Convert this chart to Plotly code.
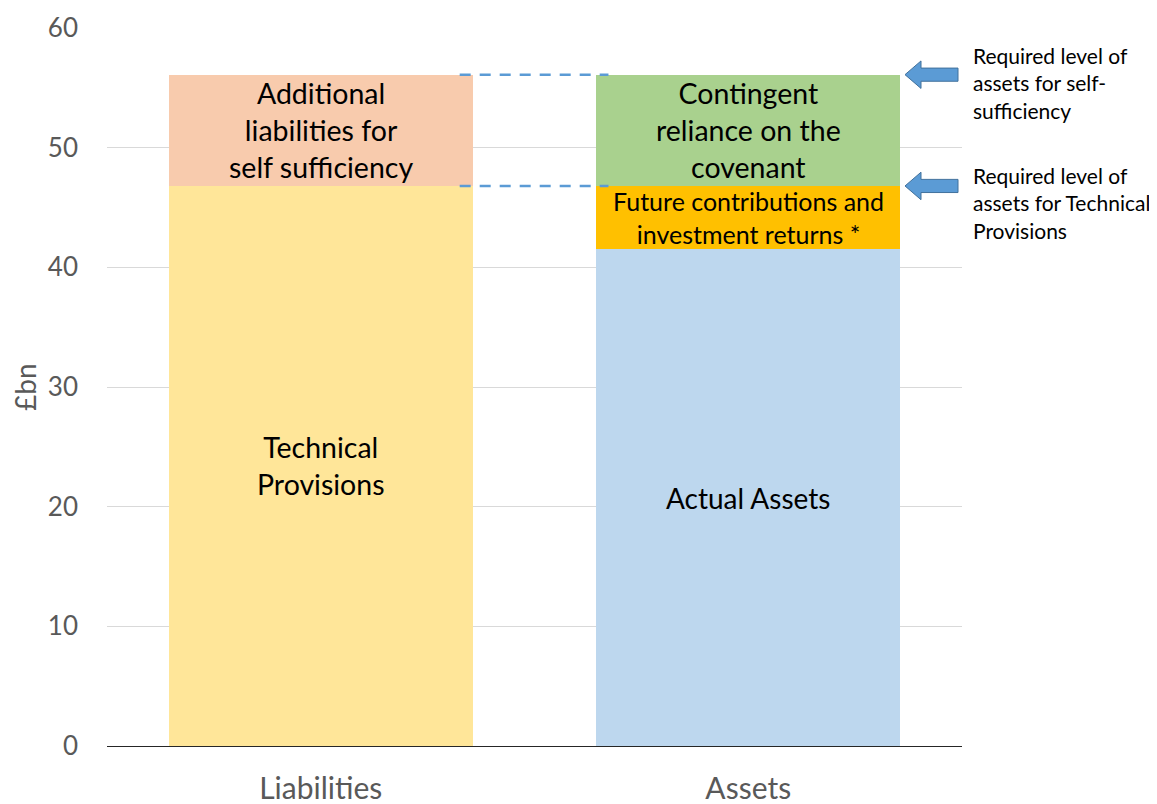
import plotly.graph_objects as go

categories = ["Liabilities", "Assets"]
technical_provisions = [46.8, None]
additional_liabilities = [9.3, None]
actual_assets = [None, 41.5]
future_contributions = [None, 5.3]
contingent_reliance = [None, 9.3]

tp_level = 46.8
ss_level = 56.1

FONT = "Lato"
ARROW = "#5B9BD5"

fig = go.Figure()
series = [
    ("Technical Provisions", technical_provisions, "#FFE699", "Technical<br>Provisions", 28.5),
    ("Additional liabilities", additional_liabilities, "#F8CBAD", "Additional<br>liabilities for<br>self sufficiency", 28.5),
    ("Actual Assets", actual_assets, "#BDD7EE", "Actual Assets", 28),
    ("Future contributions", future_contributions, "#FFC000", "Future contributions and<br>investment returns *", 25),
    ("Contingent reliance", contingent_reliance, "#A9D18E", "Contingent<br>reliance on the<br>covenant", 28.5),
]
for name, vals, col, label, fs in series:
    fig.add_trace(go.Bar(x=categories, y=vals, name=name, marker=dict(color=col, line=dict(width=0)),
                         hoverinfo="skip"))

fig.update_layout(barmode="stack", bargap=0.29)

# labels inside segments
bases = {"Liabilities": 0.0, "Assets": 0.0}
for name, vals, col, label, fs in series:
    for c, v in zip(categories, vals):
        if v is None:
            continue
        mid = bases[c] + v / 2
        bases[c] += v
        fig.add_annotation(x=c, y=mid, text=label, showarrow=False,
                           font=dict(family=FONT, size=fs, color="#000000"),
                           xref="x", yref="y", align="center")

# dashed connector lines
for lvl in [ss_level, tp_level]:
    fig.add_shape(type="line", xref="x", yref="y", x0=0.325, x1=0.673, y0=lvl, y1=lvl,
                  line=dict(color=ARROW, width=2.5, dash="11px,9px"))

plot_x0, plot_x1 = 107, 962
def px_to_paper(px):
    return (px - plot_x0) / (plot_x1 - plot_x0)

for lvl in [ss_level, tp_level]:
    tip = px_to_paper(905)
    neck = px_to_paper(921)
    tail = px_to_paper(958)
    hh = 1.15  # head half height in data units
    sh = 0.55  # shaft half height
    path = (f"M {tip},{lvl} L {neck},{lvl+hh} L {neck},{lvl+sh} L {tail},{lvl+sh} "
            f"L {tail},{lvl-sh} L {neck},{lvl-sh} L {neck},{lvl-hh} Z")
    fig.add_shape(type="path", xref="paper", yref="y", path=path,
                  fillcolor=ARROW, line=dict(color="#41719C", width=1))

fig.add_annotation(x=px_to_paper(971), y=ss_level - 0.7, xref="paper", yref="y",
                   text="Required level of<br>assets for self-<br>sufficiency", showarrow=False,
                   xanchor="left", yanchor="middle", align="left",
                   font=dict(family=FONT, size=21, color="#000000"))
fig.add_annotation(x=px_to_paper(971), y=tp_level - 1.4, xref="paper", yref="y",
                   text="Required level of<br>assets for Technical<br>Provisions", showarrow=False,
                   xanchor="left", yanchor="middle", align="left",
                   font=dict(family=FONT, size=21, color="#000000"))

# y-axis title as rotated annotation for precise placement
fig.add_annotation(x=px_to_paper(25), y=0.5, xref="paper", yref="paper", text="£bn",
                   textangle=-90, showarrow=False, xanchor="center", yanchor="middle",
                   font=dict(family=FONT, size=28, color="#595959"))

fig.update_layout(
    width=1157, height=804,
    margin=dict(l=99, r=203, t=20, b=66, autoexpand=False),
    paper_bgcolor="white", plot_bgcolor="white",
    showlegend=False,
    font=dict(family=FONT),
    yaxis=dict(range=[0, 60], dtick=10, showgrid=True, gridcolor="#D9D9D9", gridwidth=1,
               zeroline=False, showline=False, ticks="", ticklabelstandoff=28,
               tickfont=dict(family=FONT, size=26, color="#595959")),
    xaxis=dict(showline=True, linecolor="#262626", linewidth=1, ticks="", ticklabelstandoff=16,
               tickfont=dict(family=FONT, size=30, color="#595959")),
)

fig.write_html("out.html")
